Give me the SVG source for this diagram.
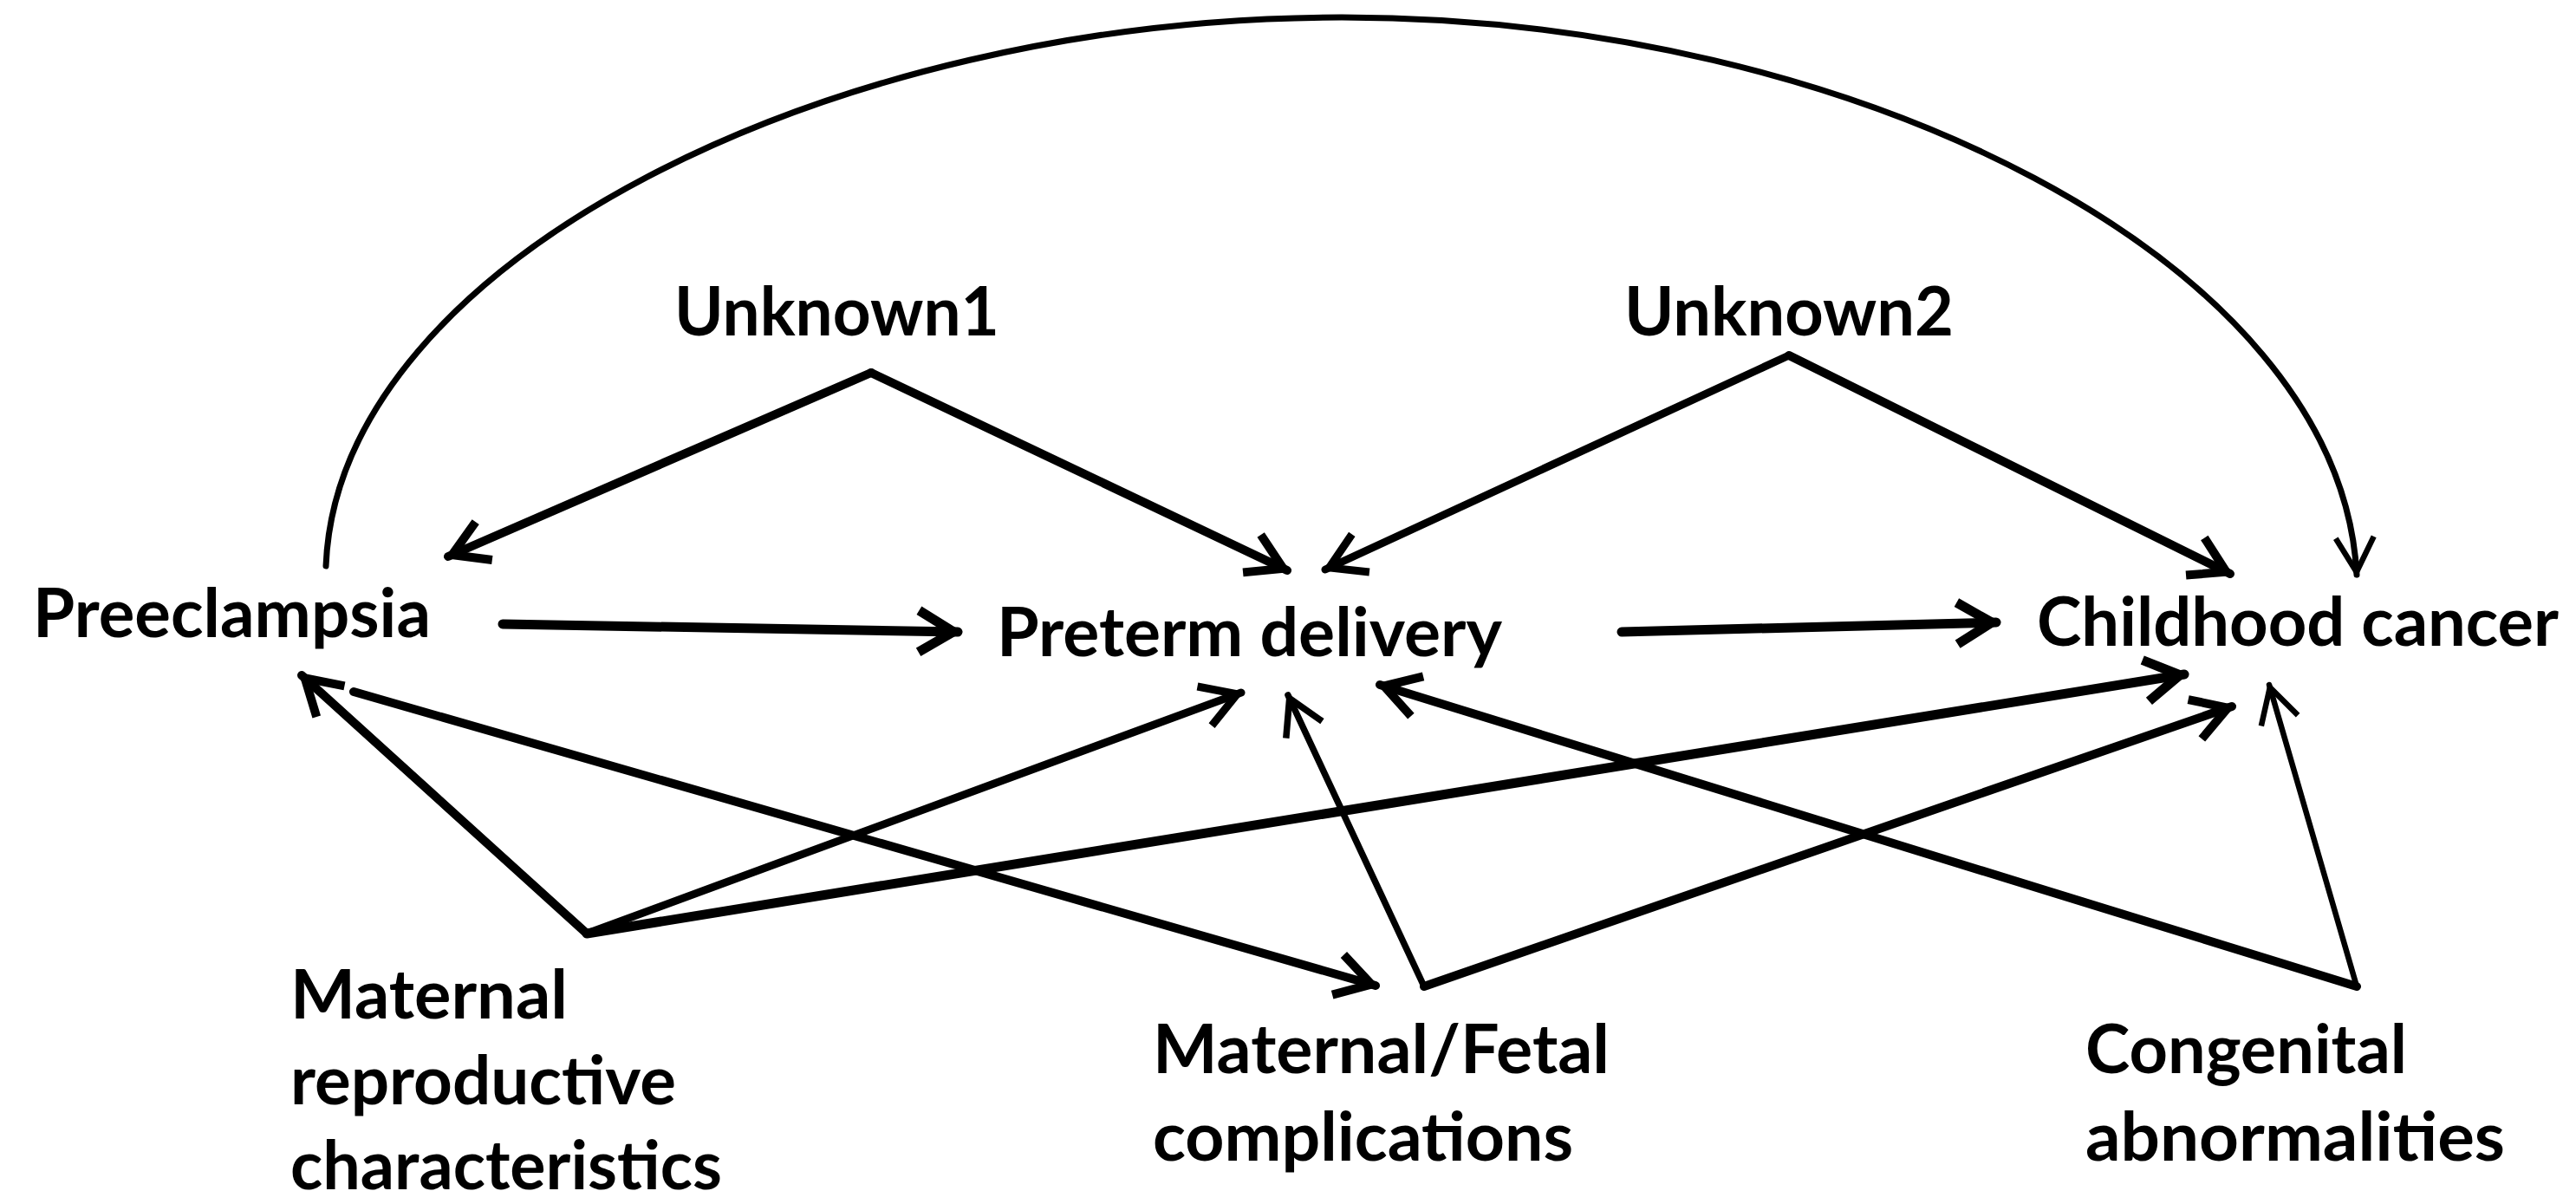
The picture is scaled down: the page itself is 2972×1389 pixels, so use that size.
<svg xmlns="http://www.w3.org/2000/svg" width="2972" height="1389" viewBox="0 0 2972 1389">
<style>
  .lbl { font-family: Lato, "Open Sans", "Liberation Sans", sans-serif; font-weight: 700; font-size: 79px; fill: #000; }
  .e { fill: none; stroke: #000; stroke-linecap: round; stroke-linejoin: round; }
  .w9 { stroke-width: 11; marker-end: url(#a9); }
  .w8 { stroke-width: 10; marker-end: url(#a8); }
  .w7 { stroke-width: 9; marker-end: url(#a7); }
  .w6 { stroke-width: 7.5; marker-end: url(#a6); }
  .w5 { stroke-width: 6.5; marker-end: url(#a5); }
</style>
<defs>
  <marker id="a9" markerUnits="userSpaceOnUse" viewBox="-70 -40 90 80" markerWidth="90" markerHeight="80" refX="0" refY="0" orient="auto"><path d="M-45,-24 L-5,0 L-45,24" fill="none" stroke="#000" stroke-width="11" stroke-linecap="butt" stroke-linejoin="miter"/></marker>
  <marker id="a8" markerUnits="userSpaceOnUse" viewBox="-70 -40 90 80" markerWidth="90" markerHeight="80" refX="0" refY="0" orient="auto"><path d="M-45,-24 L-5,0 L-45,24" fill="none" stroke="#000" stroke-width="10" stroke-linecap="butt" stroke-linejoin="miter"/></marker>
  <marker id="a7" markerUnits="userSpaceOnUse" viewBox="-70 -40 90 80" markerWidth="90" markerHeight="80" refX="0" refY="0" orient="auto"><path d="M-45,-24 L-5,0 L-45,24" fill="none" stroke="#000" stroke-width="9" stroke-linecap="butt" stroke-linejoin="miter"/></marker>
  <marker id="a6" markerUnits="userSpaceOnUse" viewBox="-70 -40 90 80" markerWidth="90" markerHeight="80" refX="0" refY="0" orient="auto"><path d="M-44,-23 L-4,0 L-44,23" fill="none" stroke="#000" stroke-width="7.5" stroke-linecap="butt" stroke-linejoin="miter"/></marker>
  <marker id="a5" markerUnits="userSpaceOnUse" viewBox="-70 -40 90 80" markerWidth="90" markerHeight="80" refX="0" refY="0" orient="auto"><path d="M-43,-22 L-3,0 L-43,22" fill="none" stroke="#000" stroke-width="6.5" stroke-linecap="butt" stroke-linejoin="miter"/></marker>
</defs>
<rect width="2972" height="1389" fill="#fff"/>
<g id="connectors">
  <path id="e-pre-child" class="e w5" d="M376,653 C390,300 960,20 1548,20 C2136,20 2700,300 2719,663" style="stroke-width:7"/>
  <line id="e-u1-pre" class="e w8" x1="1005" y1="430" x2="517" y2="642"/>
  <line id="e-u1-ptd" class="e w8" x1="1005" y1="430" x2="1485" y2="658"/>
  <line id="e-u2-ptd" class="e w7" x1="2064" y1="410" x2="1529" y2="657"/>
  <line id="e-u2-child" class="e w8" x1="2064" y1="410" x2="2573" y2="662"/>
  <line id="e-pre-ptd" class="e w9" x1="580" y1="720" x2="1105" y2="729"/>
  <line id="e-ptd-child" class="e w9" x1="1871" y1="729" x2="2303" y2="718"/>
  <line id="e-mrc-pre" class="e w8" x1="677" y1="1077" x2="348" y2="779"/>
  <line id="e-mrc-ptd" class="e w7" x1="677" y1="1077" x2="1432" y2="799"/>
  <line id="e-mrc-child" class="e w9" x1="677" y1="1077" x2="2520" y2="778"/>
  <line id="e-pre-mfc" class="e w8" x1="408" y1="798" x2="1587" y2="1137"/>
  <line id="e-mfc-ptd" class="e w6" x1="1643" y1="1138" x2="1486" y2="802"/>
  <line id="e-mfc-child" class="e w8" x1="1643" y1="1138" x2="2575" y2="815"/>
  <line id="e-ca-ptd" class="e w8" x1="2719" y1="1138" x2="1592" y2="790"/>
  <line id="e-ca-child" class="e w5" x1="2719" y1="1138" x2="2618" y2="790"/>
</g>
<g id="n-unknown1"><text class="lbl" x="778" y="387" textLength="375" lengthAdjust="spacingAndGlyphs">Unknown1</text></g>
<g id="n-unknown2"><text class="lbl" x="1874" y="387" textLength="380" lengthAdjust="spacingAndGlyphs">Unknown2</text></g>
<g id="n-preeclampsia"><text class="lbl" x="38" y="735" textLength="459" lengthAdjust="spacingAndGlyphs">Preeclampsia</text></g>
<g id="n-preterm"><text class="lbl" x="1150" y="757" textLength="583" lengthAdjust="spacingAndGlyphs">Preterm delivery</text></g>
<g id="n-childhood"><text class="lbl" x="2350" y="745" textLength="602" lengthAdjust="spacingAndGlyphs">Childhood cancer</text></g>
<g id="n-maternal-repro">
  <text class="lbl" x="335" y="1175" textLength="320" lengthAdjust="spacingAndGlyphs">Maternal</text>
  <text class="lbl" x="335" y="1274" textLength="445" lengthAdjust="spacingAndGlyphs">reproductive</text>
  <text class="lbl" x="335" y="1372" textLength="498" lengthAdjust="spacingAndGlyphs">characteristics</text>
</g>
<g id="n-maternal-fetal">
  <text class="lbl" x="1330" y="1238" textLength="527" lengthAdjust="spacingAndGlyphs">Maternal/Fetal</text>
  <text class="lbl" x="1330" y="1339" textLength="485" lengthAdjust="spacingAndGlyphs">complications</text>
</g>
<g id="n-congenital">
  <text class="lbl" x="2406" y="1238" textLength="371" lengthAdjust="spacingAndGlyphs">Congenital</text>
  <text class="lbl" x="2406" y="1339" textLength="484" lengthAdjust="spacingAndGlyphs">abnormalities</text>
</g>
</svg>
